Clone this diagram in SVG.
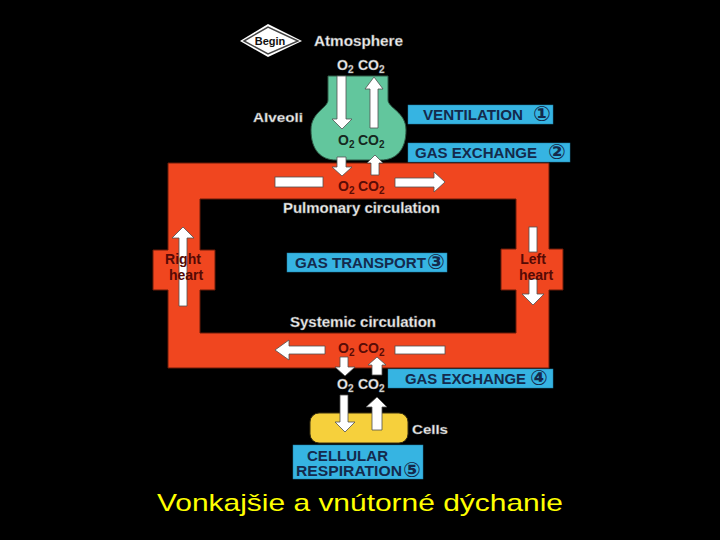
<svg xmlns="http://www.w3.org/2000/svg" width="720" height="540" viewBox="0 0 720 540">
<style>
.t{font-family:"Liberation Sans","DejaVu Sans",sans-serif;font-weight:bold}
.wl{fill:#f2f2f2;stroke:#7a7a7a;stroke-width:0.4}
.blue{fill:#36b4e2;stroke:#1d7fa8;stroke-width:0.5}
.bt{fill:#142a4c;font-size:14px}
.num{font-family:"DejaVu Sans",sans-serif;font-size:21px;fill:#142a4c;font-weight:bold}
.arr{fill:#ffffff;stroke:#505050;stroke-width:0.8}
.dk{fill:#5a0c06;font-size:14px}
.gk{fill:#15281e;font-size:14px}
.sub{font-size:10px}
.ht{fill:#560a05;font-size:14px}
</style>
<rect x="0" y="0" width="720" height="540" fill="#000"/>

<g id="begin">
<polygon points="240,41 268,24 302,41 268,57" fill="#ffffff"/>
<polygon points="244,41 268,27 298,41 268,54" fill="#ffffff" stroke="#444" stroke-width="1.5"/>
<text class="t" x="270" y="45" font-size="11" text-anchor="middle" fill="#111">Begin</text>
</g>

<g id="atmosphere">
<text class="t wl" x="314" y="46" font-size="15" textLength="89" lengthAdjust="spacingAndGlyphs">Atmosphere</text>
<text class="t wl" x="337" y="70" font-size="14">O<tspan class="sub" dy="3">2</tspan></text>
<text class="t wl" x="358" y="70" font-size="14">CO<tspan class="sub" dy="3">2</tspan></text>
</g>

<g id="alveoli">
<path d="M328,76 L388,76 L388,100 C388,108 406,112 406,130 C406,150 396,160 381,160 L336,160 C321,160 311,150 311,130 C311,112 328,108 328,100 Z" fill="#62c69d" stroke="#2e5a46" stroke-width="1"/>
<text class="t wl" x="253" y="122" font-size="13" textLength="50" lengthAdjust="spacingAndGlyphs">Alveoli</text>
<text class="t gk" x="338" y="145">O<tspan class="sub" dy="3">2</tspan></text>
<text class="t gk" x="358" y="145">CO<tspan class="sub" dy="3">2</tspan></text>
</g>

<g id="loop">
<path fill-rule="evenodd" d="M168,163 H549 V249 H563 V290 H549 V368 H168 V290 H153 V250 H168 Z M200,199 H516 V249 H501 V290 H516 V333 H200 V290 H215 V250 H200 Z" fill="#f0461f" stroke="#6a1a08" stroke-width="1"/>
<text class="t wl" x="283" y="213" font-size="14" textLength="157" lengthAdjust="spacingAndGlyphs">Pulmonary circulation</text>
<text class="t wl" x="290" y="327" font-size="14" textLength="146" lengthAdjust="spacingAndGlyphs">Systemic circulation</text>
<text class="t dk" x="338" y="191">O<tspan class="sub" dy="3">2</tspan></text>
<text class="t dk" x="358" y="191">CO<tspan class="sub" dy="3">2</tspan></text>
<text class="t dk" x="338" y="353">O<tspan class="sub" dy="3">2</tspan></text>
<text class="t dk" x="358" y="353">CO<tspan class="sub" dy="3">2</tspan></text>
</g>

<g id="right-heart">
<polygon class="arr" points="183,227 194,238 187,238 187,306 179,306 179,238 172,238"/>
<text class="t ht" x="183" y="264" text-anchor="middle">Right</text>
<text class="t ht" x="186" y="280" text-anchor="middle">heart</text>
</g>

<g id="left-heart">
<rect class="arr" x="529" y="227" width="8" height="25"/>
<polygon class="arr" points="529,279 537,279 537,294 544,294 533,305 522,294 529,294"/>
<text class="t ht" x="533" y="264" text-anchor="middle">Left</text>
<text class="t ht" x="536" y="280" text-anchor="middle">heart</text>
</g>

<g id="cells">
<rect x="310" y="413" width="98" height="30" rx="9" fill="#f6d03c" stroke="#3a3010" stroke-width="1"/>
<text class="t wl" x="412" y="434" font-size="13" textLength="36" lengthAdjust="spacingAndGlyphs">Cells</text>
<text class="t wl" x="337" y="389" font-size="14">O<tspan class="sub" dy="3">2</tspan></text>
<text class="t wl" x="358" y="389" font-size="14">CO<tspan class="sub" dy="3">2</tspan></text>
</g>

<g id="connectors">
<polygon class="arr" points="337,76 346,76 346,119 352,119 342,129 332,119 337,119"/>
<polygon class="arr" points="374,77 383,89 378,89 378,128 370,128 370,89 365,89"/>
<polygon class="arr" points="337,157 346,157 346,167 352,167 342,176 332,167 337,167"/>
<polygon class="arr" points="375,155 383,163 379,163 379,175 371,175 371,163 367,163"/>
<rect class="arr" x="275" y="177" width="48" height="10"/>
<polygon class="arr" points="395,178 434,178 434,172 445,182 434,192 434,187 395,187"/>
<polygon class="arr" points="275,350 289,340 289,346 325,346 325,354 289,354 289,360"/>
<rect class="arr" x="395" y="346" width="50" height="8"/>
<polygon class="arr" points="340,357 348,357 348,367 355,367 345,376 335,367 340,367"/>
<polygon class="arr" points="377,357 386,365 382,365 382,375 372,375 372,365 368,365"/>
<polygon class="arr" points="340,395 348,395 348,422 355,422 345,432 335,422 340,422"/>
<polygon class="arr" points="377,397 387,407 382,407 382,430 372,430 372,407 366,407"/>
</g>

<g id="label-ventilation">
<rect class="blue" x="408" y="105" width="145" height="19"/>
<text class="t bt" x="423" y="120" textLength="100" lengthAdjust="spacingAndGlyphs">VENTILATION</text>
<text class="num" x="542" y="121" text-anchor="middle">①</text>
</g>
<g id="label-gas-exchange-2">
<rect class="blue" x="408" y="143" width="162" height="19"/>
<text class="t bt" x="415" y="158" textLength="122" lengthAdjust="spacingAndGlyphs">GAS EXCHANGE</text>
<text class="num" x="557" y="159" text-anchor="middle">②</text>
</g>
<g id="label-gas-transport">
<rect class="blue" x="287" y="253" width="160" height="19"/>
<text class="t bt" x="295" y="268" textLength="131" lengthAdjust="spacingAndGlyphs">GAS TRANSPORT</text>
<text class="num" x="436" y="269" text-anchor="middle">③</text>
</g>
<g id="label-gas-exchange-4">
<rect class="blue" x="388" y="369" width="165" height="19"/>
<text class="t bt" x="405" y="384" textLength="121" lengthAdjust="spacingAndGlyphs">GAS EXCHANGE</text>
<text class="num" x="539" y="385" text-anchor="middle">④</text>
</g>
<g id="label-cellular-respiration">
<rect class="blue" x="293" y="445" width="130" height="34"/>
<text class="t bt" x="307" y="461" textLength="81" lengthAdjust="spacingAndGlyphs">CELLULAR</text>
<text class="t bt" x="296" y="476" textLength="106" lengthAdjust="spacingAndGlyphs">RESPIRATION</text>
<text class="num" x="412" y="477" text-anchor="middle">⑤</text>
</g>

<text x="360" y="511" font-family="Liberation Sans, Arial, sans-serif" font-size="24" fill="#ffff00" text-anchor="middle" textLength="406" lengthAdjust="spacingAndGlyphs">Vonkajšie a vnútorné dýchanie</text>
</svg>
